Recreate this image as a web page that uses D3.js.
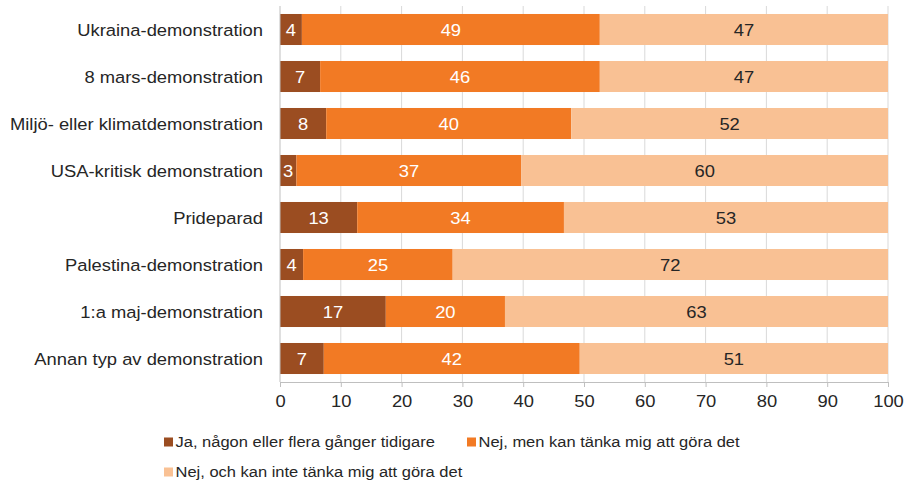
<!DOCTYPE html>
<html>
<head>
<meta charset="utf-8">
<script src="https://cdn.jsdelivr.net/npm/d3@7"></script>
<style>
  body { margin: 0; background: #fff; }
  svg { font-family: "Liberation Sans", Arial, sans-serif; }
</style>
</head>
<body>
<svg id="chart"></svg>
<script>
const categories = [
  "Ukraina-demonstration",
  "8 mars-demonstration",
  "Miljö- eller klimatdemonstration",
  "USA-kritisk demonstration",
  "Prideparad",
  "Palestina-demonstration",
  "1:a maj-demonstration",
  "Annan typ av demonstration"
];
const seriesNames = [
  "Ja, någon eller flera gånger tidigare",
  "Nej, men kan tänka mig att göra det",
  "Nej, och kan inte tänka mig att göra det"
];
const yesBefore = [3.6, 6.6, 7.6, 2.7, 12.7, 3.8, 17.4, 7.2];
const noButCould = [49.0, 46.0, 40.3, 37.0, 34.0, 24.6, 19.6, 42.1];
const noCouldNot = [47.4, 47.4, 52.1, 60.3, 53.3, 71.6, 63.0, 50.7];
const xTicks = [0, 10, 20, 30, 40, 50, 60, 70, 80, 90, 100];

const colors = ["#9b4d21", "#f27a24", "#f9c194"];
const labelColors = ["#fff", "#fff", "#262626"];

const width = 905, height = 481;
const sx = 1.1; // text in the reference is a bit wide
const svg = d3.select("#chart").attr("width", width).attr("height", height);

const x = d3.scaleLinear().domain([0, 100]).range([280, 888]);
const y = d3.scaleBand().domain(categories).range([6, 382])
  .paddingInner(0.34).paddingOuter(0.17);

// gridlines
svg.append("g")
  .selectAll("line")
  .data(xTicks.slice(1))
  .join("line")
    .attr("x1", d => x(d)).attr("x2", d => x(d))
    .attr("y1", 6).attr("y2", 382)
    .attr("stroke", "#d9d9d9").attr("stroke-width", 1);

const stackData = categories.map((c, i) => ({ cat: c, s0: yesBefore[i], s1: noButCould[i], s2: noCouldNot[i] }));
const series = d3.stack().keys(["s0", "s1", "s2"])(stackData);

const fmt = d3.format(".0f");

series.forEach((s, si) => {
  const g = svg.append("g");
  g.selectAll("rect")
    .data(s)
    .join("rect")
      .attr("x", d => x(d[0]))
      .attr("y", d => y(d.data.cat))
      .attr("width", d => x(d[1]) - x(d[0]))
      .attr("height", y.bandwidth())
      .attr("fill", colors[si]);
  g.selectAll("text")
    .data(s)
    .join("text")
      .attr("transform", d => `translate(${(x(d[0]) + x(d[1])) / 2},${y(d.data.cat) + y.bandwidth() / 2}) scale(${sx},1)`)
      .attr("dy", "0.36em")
      .attr("text-anchor", "middle")
      .attr("font-size", 16.7)
      .attr("fill", labelColors[si])
      .text(d => fmt(d[1] - d[0]));
});

// x axis
const xAxis = d3.axisBottom(x).tickValues(xTicks).tickSize(5).tickPadding(8);
const gx = svg.append("g").attr("transform", "translate(0,382)").call(xAxis);
gx.select(".domain").attr("stroke", "#bfbfbf");
gx.selectAll(".tick line").attr("stroke", "#bfbfbf");
gx.selectAll(".tick text").attr("font-size", 16.7).attr("fill", "#262626")
  .attr("font-family", "Liberation Sans, Arial, sans-serif")
  .attr("transform", `scale(${sx},1)`);

// y axis line
svg.append("line")
  .attr("x1", x(0)).attr("x2", x(0))
  .attr("y1", 6).attr("y2", 382)
  .attr("stroke", "#bfbfbf");

// category labels
svg.append("g")
  .selectAll("text")
  .data(categories)
  .join("text")
    .attr("transform", d => `translate(263,${y(d) + y.bandwidth() / 2}) scale(${sx},1)`)
    .attr("dy", "0.36em")
    .attr("text-anchor", "end")
    .attr("font-size", 16.7)
    .attr("fill", "#262626")
    .text(d => d);

// legend
const legendPos = [[164, 442], [467, 442], [164, 472]];
const lg = svg.append("g").selectAll("g")
  .data(seriesNames)
  .join("g")
    .attr("transform", (d, i) => `translate(${legendPos[i][0]},${legendPos[i][1]})`);
lg.append("rect")
  .attr("x", 0).attr("y", -4.5).attr("width", 9).attr("height", 9)
  .attr("fill", (d, i) => colors[i]);
lg.append("text")
  .attr("transform", `translate(11.5,0) scale(1.1,1)`)
  .attr("dy", "0.36em")
  .attr("font-size", 15)
  .attr("fill", "#262626")
  .text(d => d);
</script>
</body>
</html>
